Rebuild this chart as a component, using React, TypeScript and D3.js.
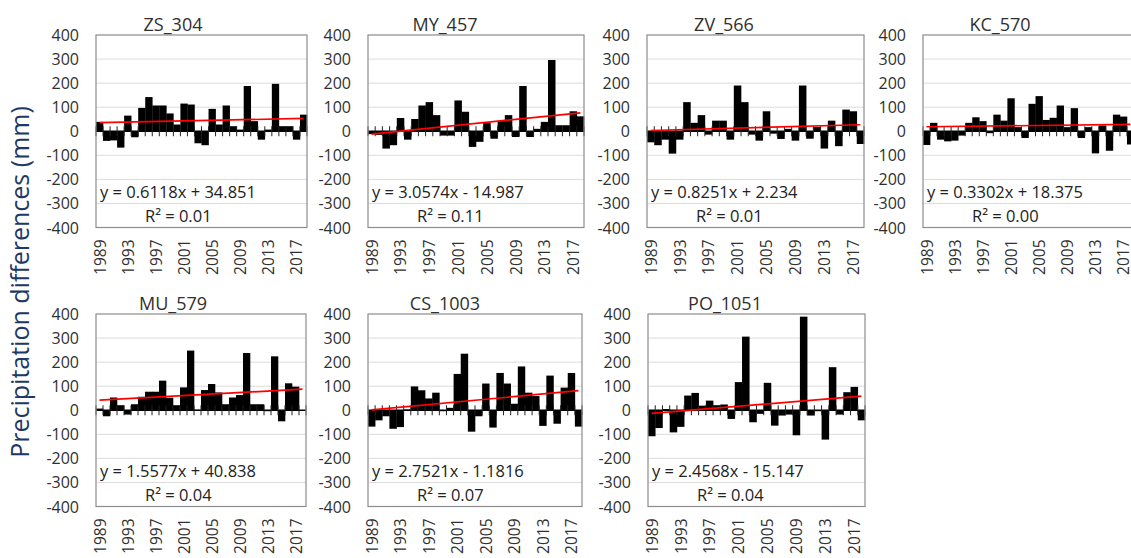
import React from "react";
import * as d3 from "d3";

// ---------- data ----------
const years: number[] = [
  1989, 1990, 1991, 1992, 1993, 1994, 1995, 1996, 1997, 1998,
  1999, 2000, 2001, 2002, 2003, 2004, 2005, 2006, 2007, 2008,
  2009, 2010, 2011, 2012, 2013, 2014, 2015, 2016, 2017, 2018,
];
const xTickLabels: string[] = ["1989", "1993", "1997", "2001", "2005", "2009", "2013", "2017"];
const yTicks: number[] = [400, 300, 200, 100, 0, -100, -200, -300, -400];
const stationNames: string[] = ["ZS_304", "MY_457", "ZV_566", "KC_570", "MU_579", "CS_1003", "PO_1051"];

const zs304: number[] = [39, -40, -38, -68, 65, -25, 97, 142, 107, 107, 74, 28, 115, 111, -50, -58, 93, 28, 107, 21, 7, 188, 42, -35, 7, 197, 21, 21, -35, 69];
const my457: number[] = [-12, -15, -72, -58, 55, -35, 51, 107, 121, 67, -18, -18, 128, 81, -65, -44, 35, -31, 42, 67, -24, 188, -24, 10, 39, 296, 25, 25, 83, 62];
const zv566: number[] = [-46, -58, -35, -93, -35, 121, 35, 67, -14, 44, 44, -35, 190, 121, -14, -39, 83, -10, -32, 10, -39, 190, -31, 18, -72, 44, -62, 90, 83, -53];
const kc570: number[] = [-57, 35, -35, -42, -39, -18, 35, 58, 42, -8, 69, 44, 137, 17, -28, 114, 146, 47, 56, 107, 17, 96, -28, 17, -92, 24, -81, 69, 61, -55];
const mu579: number[] = [7, -25, 53, 21, -18, 25, 56, 77, 77, 123, 52, 21, 95, 248, 2, 84, 109, 74, 25, 53, 63, 238, 25, 25, -4, 224, -46, 112, 98, 0];
const cs1003: number[] = [-68, -42, -25, -77, -70, 3, 99, 83, 49, 73, -4, 10, 151, 235, -89, -25, 111, -72, 155, 111, 27, 182, 73, 59, -65, 144, -56, 94, 155, -68];
const po1051: number[] = [-108, -74, 5, -92, -69, 61, 72, 19, 40, 21, 24, -36, 117, 306, -50, -15, 114, -64, -22, -18, -104, 389, -22, -4, -122, 179, -18, 75, 97, -42];

const slopes: number[] = [0.6118, 3.0574, 0.8251, 0.3302, 1.5577, 2.7521, 2.4568];
const intercepts: number[] = [34.851, -14.987, 2.234, 18.375, 40.838, -1.1816, -15.147];
const r2s: number[] = [0.01, 0.11, 0.01, 0.0, 0.04, 0.07, 0.04];

const seriesList: number[][] = [zs304, my457, zv566, kc570, mu579, cs1003, po1051];

// ---------- layout ----------
const W = 1131;
const H = 558;
const FONT = "'Open Sans', 'Liberation Sans', sans-serif";
const TEXT = "#303030";

const layout = [
  { left: 96, top: 35, width: 211 },
  { left: 368, top: 35, width: 216 },
  { left: 647, top: 35, width: 217 },
  { left: 923, top: 35, width: 211 },
  { left: 96, top: 314, width: 210 },
  { left: 368, top: 314, width: 214 },
  { left: 648, top: 314, width: 217 },
];
const PH = 192.5;

function Panel({ idx }: { idx: number }) {
  const { left, top, width } = layout[idx];
  const data = seriesList[idx];
  const x = d3.scaleBand<number>().domain(years).range([left, left + width]).padding(0);
  const y = d3.scaleLinear().domain([-400, 400]).range([top + PH, top]);
  const bw = x.bandwidth();
  const xi = d3
    .scaleLinear()
    .domain([1, years.length])
    .range([(x(years[0]) as number) + bw / 2, (x(years[years.length - 1]) as number) + bw / 2]);
  const slope = slopes[idx];
  const intercept = intercepts[idx];
  const trendPts: [number, number][] = [1, years.length].map((k) => [k, slope * k + intercept]);
  const line = d3
    .line<[number, number]>()
    .x((d) => xi(d[0]))
    .y((d) => y(d[1]));
  const y0 = y(0);
  const eq = `y = ${slope}x ${intercept < 0 ? "-" : "+"} ${Math.abs(intercept)}`;
  const boundaries = d3.range(years.length + 1).map((i) => left + i * bw);

  return (
    <g>
      <text
        x={left + 77}
        y={top - 11}
        fontSize={18}
        fontFamily={FONT}
        fill={TEXT}
        textAnchor="middle"
        dominantBaseline="central"
      >
        {stationNames[idx]}
      </text>
      {/* gridlines */}
      {yTicks
        .filter((t) => t !== 0 && Math.abs(t) !== 400)
        .map((t) => (
          <line key={t} x1={left} x2={left + width} y1={y(t)} y2={y(t)} stroke="#dcdcdc" strokeWidth={1} />
        ))}
      {/* y tick labels */}
      {yTicks.map((t) => (
        <text
          key={"yl" + t}
          x={left - 17}
          y={y(t)}
          fontSize={16}
          fontFamily={FONT}
          fill={TEXT}
          textAnchor="end"
          dominantBaseline="central"
        >
          {t}
        </text>
      ))}
      {/* bars */}
      {data.map((v, i) => (
        <rect
          key={i}
          x={x(years[i]) as number}
          width={bw + 0.3}
          y={Math.min(y(v), y0)}
          height={Math.abs(y(v) - y0)}
          fill="#000"
        />
      ))}
      {/* axis line + cross ticks */}
      <line x1={left} x2={left + width} y1={y0} y2={y0} stroke="#000" strokeWidth={1.5} />
      {boundaries.map((bx, i) => (
        <line key={"t" + i} x1={bx} x2={bx} y1={y0 - 5} y2={y0 + 5} stroke="#222" strokeWidth={1} />
      ))}
      {/* trend line */}
      <path d={line(trendPts) || ""} stroke="#ff0000" strokeWidth={1.7} fill="none" />
      {/* frame */}
      <rect x={left} y={top} width={width} height={PH} fill="none" stroke="#8c8c8c" strokeWidth={1.2} />
      {/* equation */}
      <text x={left + 4} y={top + 163} fontSize={16.5} fontFamily={FONT} fill="#222">
        {eq}
      </text>
      <text x={left + 49} y={top + 187} fontSize={16.5} fontFamily={FONT} fill="#222">
        R² = {r2s[idx].toFixed(2)}
      </text>
      {/* x tick labels */}
      {xTickLabels.map((lab) => {
        const cx = (x(+lab) as number) + bw / 2;
        const ty = top + PH + 12;
        return (
          <text
            key={lab}
            transform={`translate(${cx},${ty}) rotate(-90)`}
            fontSize={15.5}
            fontFamily={FONT}
            fill={TEXT}
            textAnchor="end"
            dominantBaseline="central"
          >
            {lab}
          </text>
        );
      })}
    </g>
  );
}

export default function App() {
  return (
    <svg
      width={W}
      height={H}
      viewBox={`0 0 ${W} ${H}`}
      style={{ position: "absolute", left: 0, top: 0, background: "#fff", overflow: "hidden" }}
    >
      <rect x={0} y={0} width={W} height={H} fill="#fff" />
      <text
        transform={`translate(29,282) rotate(-90)`}
        fontSize={25}
        fontFamily={FONT}
        fill="#203864"
        textAnchor="middle"
      >
        Precipitation differences (mm)
      </text>
      {stationNames.map((_, i) => (
        <Panel key={i} idx={i} />
      ))}
    </svg>
  );
}
